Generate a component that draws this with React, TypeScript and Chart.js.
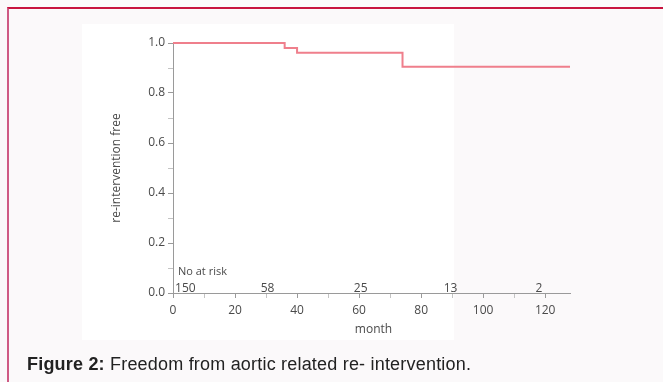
import React, { useEffect, useRef } from "react";
import { Chart, registerables } from "chart.js";

Chart.register(...registerables);

// Kaplan-Meier step curve (month, re-intervention free)
const months = [0, 36, 40, 74, 128];
const freedom = [1.0, 0.98, 0.961, 0.905, 0.905];

// Number at risk row
const atRiskMonths = [4, 30.5, 60.5, 89.5, 118];
const atRiskCounts = ["150", "58", "25", "13", "2"];

const xMax = 128;
const yTitle = "re-intervention free";
const xTitle = "month";
const atRiskTitle = "No at risk";
const captionBold = "Figure 2:";
const captionText = " Freedom from aortic related re- intervention.";

const FONT = '"Open Sans", "DejaVu Sans", sans-serif';
const TEXT = "#4a4a4a";
const AXIS = "#9a9a9a";

const annotate = {
  id: "annotate",
  afterDraw(chart: any) {
    const { ctx, chartArea, scales } = chart;
    ctx.save();
    ctx.fillStyle = TEXT;
    ctx.font = `11px ${FONT}`;
    ctx.textAlign = "left";
    ctx.textBaseline = "alphabetic";
    ctx.fillText(atRiskTitle, chartArea.left + 5, chartArea.bottom - 18);
    ctx.font = `12px ${FONT}`;
    ctx.textAlign = "center";
    atRiskCounts.forEach((c, i) => {
      ctx.fillText(c, scales.x.getPixelForValue(atRiskMonths[i]), chartArea.bottom - 1);
    });
    ctx.textBaseline = "middle";
    ctx.fillText(xTitle, (chartArea.left + chartArea.right) / 2 + 2, chartArea.bottom + 37);
    ctx.translate(chartArea.left - 56, (chartArea.top + chartArea.bottom) / 2);
    ctx.rotate(-Math.PI / 2);
    ctx.fillText(yTitle, 0, 0);
    ctx.restore();
  },
};

export default function App() {
  const ref = useRef<HTMLCanvasElement>(null);
  useEffect(() => {
    if (!ref.current) return;
    const chart = new Chart(ref.current, {
      type: "line",
      data: {
        datasets: [
          {
            data: months.map((m, i) => ({ x: m, y: freedom[i] })),
            borderColor: "#ef7f8c",
            borderWidth: 2,
            pointRadius: 0,
            stepped: true,
            fill: false,
            clip: false,
          },
        ],
      },
      options: {
        animation: false,
        responsive: false,
        events: [],
        layout: { padding: { left: 123, right: 93, top: 43, bottom: 49 } },
        plugins: { legend: { display: false }, tooltip: { enabled: false } },
        scales: {
          x: {
            type: "linear",
            min: 0,
            max: xMax,
            afterFit: (s: any) => {
              s.height = 40;
            },
            border: { display: true, color: AXIS, width: 1 },
            grid: {
              display: true,
              drawOnChartArea: false,
              drawTicks: true,
              tickLength: 5,
              color: (c: any) => (Math.round(c.tick?.value ?? 0) % 20 === 0 ? AXIS : "#c4c4c4"),
            },
            ticks: {
              stepSize: 10,
              includeBounds: false,
              autoSkip: false,
              maxRotation: 0,
              padding: 5,
              color: TEXT,
              font: { family: FONT, size: 12 },
              callback: (v: any) => (Math.round(v) % 20 === 0 ? String(v) : ""),
            },
          },
          y: {
            type: "linear",
            min: 0,
            max: 1,
            afterFit: (s: any) => {
              s.width = 50;
            },
            border: { display: true, color: AXIS, width: 1 },
            grid: {
              display: true,
              drawOnChartArea: false,
              drawTicks: true,
              tickLength: 5,
              color: (c: any) => (Math.round((c.tick?.value ?? 0) * 10) % 2 === 0 ? AXIS : "#c4c4c4"),
            },
            ticks: {
              stepSize: 0.1,
              autoSkip: false,
              padding: 3,
              color: TEXT,
              font: { family: FONT, size: 12 },
              callback: (v: any) => (Math.round(v * 10) % 2 === 0 ? Number(v).toFixed(1) : ""),
            },
          },
        },
      },
      plugins: [annotate],
    });
    return () => chart.destroy();
  }, []);

  return (
    <div
      style={{
        position: "fixed",
        left: 0,
        top: 0,
        width: 663,
        height: 382,
        background: "#fbf9fa",
        overflow: "hidden",
      }}
    >
      <div
        style={{
          position: "absolute",
          left: 7,
          top: 7,
          width: 700,
          height: 400,
          borderTop: "2px solid #c8143f",
          borderLeft: "2px solid #cf5a84",
        }}
      />
      <div
        style={{
          position: "absolute",
          left: 82,
          top: 24,
          width: 372,
          height: 316,
          background: "#ffffff",
        }}
      />
      <canvas
        ref={ref}
        width={663}
        height={382}
        style={{ position: "absolute", left: 0, top: 0, width: 663, height: 382 }}
      />
      <div
        style={{
          position: "absolute",
          left: 27,
          top: 354,
          fontFamily: '"Liberation Sans", Arial, sans-serif',
          fontSize: 18,
          letterSpacing: 0.2,
          color: "#222",
          whiteSpace: "nowrap",
          lineHeight: "20px",
        }}
      >
        <b>{captionBold}</b>
        {captionText}
      </div>
    </div>
  );
}
